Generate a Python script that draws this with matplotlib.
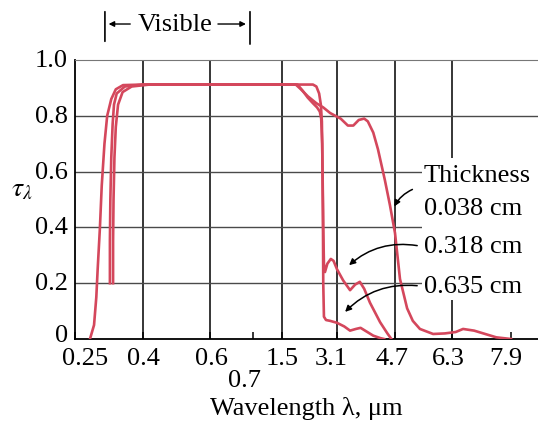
import numpy as np
import matplotlib.pyplot as plt
from matplotlib.patches import Rectangle

plt.rcParams['font.family'] = ['Liberation Serif', 'DejaVu Serif']
plt.rcParams['mathtext.fontset'] = 'stix'

# x axis of the figure is not linear: piecewise between the labelled ticks
tick_lam = [0.25, 0.4, 0.6, 0.7, 1.5, 3.1, 4.7, 6.3, 7.9]
tick_lab = ['0.25', '0.4', '0.6', '0.7', '1.5', '3.1', '4.7', '6.3', '7.9']
ytick_val = [0, 0.2, 0.4, 0.6, 0.8, 1.0]
ytick_lab = ['0', '0.2', '0.4', '0.6', '0.8', '1.0']
grid_lam = [0.4, 0.6, 1.5, 3.1, 4.7, 6.3]
grid_tau = [0.2, 0.4, 0.6, 0.8]

# transmissivity curves (wavelength in um)
lam_038 = [0.283, 0.292, 0.297, 0.300, 0.305, 0.309, 0.315, 0.321, 0.330, 0.340, 0.356, 0.40,
           1.0, 1.90, 2.05, 2.25, 2.50, 2.70, 2.90, 3.05, 3.20, 3.40, 3.55, 3.70, 3.85, 3.95,
           4.10, 4.23, 4.42, 4.56, 4.70, 4.84, 5.04, 5.20, 5.40, 5.77, 6.10, 6.40, 6.60, 6.90,
           7.20, 7.50, 7.90]
tau_038 = [0.0, 0.05, 0.15, 0.25, 0.4, 0.55, 0.7, 0.8, 0.86, 0.895, 0.91, 0.912,
           0.912, 0.912, 0.895, 0.87, 0.845, 0.83, 0.81, 0.80, 0.79, 0.765, 0.765, 0.785, 0.79, 0.78,
           0.74, 0.68, 0.57, 0.48, 0.38, 0.215, 0.11, 0.065, 0.036, 0.018, 0.02, 0.025, 0.036, 0.03,
           0.018, 0.006, 0.0]

lam_318 = [0.327, 0.327, 0.328, 0.330, 0.333, 0.336, 0.342, 0.36, 0.40, 1.0, 2.0, 2.40, 2.50,
           2.58, 2.63, 2.66, 2.68, 2.70, 2.72, 2.75, 2.82, 2.92, 3.00, 3.10, 3.27, 3.46, 3.60,
           3.73, 3.85, 4.01, 4.15, 4.29, 4.49, 4.60]
tau_318 = [0.2, 0.35, 0.5, 0.65, 0.77, 0.84, 0.88, 0.905, 0.912, 0.912, 0.912, 0.912, 0.905,
           0.88, 0.84, 0.78, 0.6, 0.4, 0.27, 0.24, 0.27, 0.287, 0.28, 0.25, 0.21, 0.175, 0.195,
           0.205, 0.18, 0.13, 0.095, 0.06, 0.02, 0.0]

lam_635 = [0.334, 0.334, 0.335, 0.337, 0.340, 0.345, 0.355, 0.375, 0.42, 1.0, 1.95, 2.10, 2.25,
           2.40, 2.52, 2.60, 2.64, 2.67, 2.69, 2.70, 2.72, 2.78, 2.90, 3.10, 3.30, 3.46, 3.62,
           3.75, 3.90, 4.10, 4.30, 4.40]
tau_635 = [0.2, 0.35, 0.5, 0.65, 0.76, 0.84, 0.885, 0.905, 0.912, 0.912, 0.912, 0.89, 0.865,
           0.845, 0.83, 0.815, 0.79, 0.7, 0.45, 0.2, 0.08, 0.068, 0.065, 0.058, 0.045, 0.03, 0.036,
           0.04, 0.028, 0.012, 0.003, 0.0]

# scale: wavelength -> position along the axis
sc_lam = np.array([0.25, 0.4, 0.6, 0.7, 1.5, 3.1, 4.7, 6.3, 7.9, 8.67])
sc_pos = np.array([75, 143, 210, 253, 282, 337, 395, 452, 511, 538.])

def fwd(x):
    return np.interp(x, sc_lam, sc_pos)

def inv(p):
    return np.interp(p, sc_pos, sc_lam)

red = '#d4475c'
fs = 19

fig = plt.figure(figsize=(5.38, 4.27), dpi=100)
ax = fig.add_axes([75/538, 87/427, 463/538, 279/427])
ax.set_xscale('function', functions=(fwd, inv))
ax.set_xlim(0.25, 8.67)
ax.set_ylim(0, 1.0)

for g in grid_lam:
    ax.axvline(g, color='k', lw=1.1, zorder=1)
for g in grid_tau:
    ax.axhline(g, color='#4a4a4a', lw=1.0, zorder=1)

# white patch behind the thickness labels
ax.add_patch(Rectangle((5.45, 0.14), 3.3, 0.51, facecolor='white', edgecolor='none', zorder=2))

ax.plot(lam_038, tau_038, color=red, lw=1.9, zorder=3)
ax.plot(lam_318, tau_318, color=red, lw=1.9, zorder=3)
ax.plot(lam_635, tau_635, color=red, lw=1.9, zorder=3)

ax.spines['right'].set_visible(False)
ax.spines['top'].set_color('#777777')
ax.spines['left'].set_linewidth(1.3)
ax.spines['bottom'].set_linewidth(1.3)

ax.set_xticks(tick_lam)
ax.set_xticklabels([])
ax.tick_params(axis='x', direction='in', length=5, width=1.1)
ax.set_yticks(ytick_val)
ax.set_yticklabels([])
ax.tick_params(axis='y', length=0)

# tick labels, placed by hand like the printed figure
offs = [(7, 0), (0, 0), (1, 0), (-6, -16), (0, 0), (-4, 0), (-2, 0), (-3, 0), (-4, 0)]
for lam, lab, (dx, dy) in zip(tick_lam, tick_lab, offs):
    ax.annotate(lab, xy=(lam, 0), xycoords=('data', 'axes fraction'),
                xytext=(dx, -5.5 + dy), textcoords='offset points',
                ha='center', va='top', fontsize=fs)
for val, lab in zip(ytick_val, ytick_lab):
    dy = 3 if val == 0 else 0
    ax.annotate(lab, xy=(0, val), xycoords=('axes fraction', 'data'),
                xytext=(-5, dy), textcoords='offset points',
                ha='right', va='center', fontsize=fs)

fig.text(306/538, 1 - 409/427, 'Wavelength λ, μm', ha='center', va='center', fontsize=fs)
fig.text(22/538, 1 - 190/427, r'$\tau_\lambda$', ha='center', va='center', fontsize=20)

# "Visible" bracket
ax.annotate('Visible', xy=(0.4955, 1.129), xycoords=('data', 'axes fraction'),
            ha='center', va='center', fontsize=fs)
for xv, y0, y1 in [(0.316, 1.057, 1.183), (0.693, 1.047, 1.183)]:
    ax.annotate('', xy=(xv, y0), xytext=(xv, y1), xycoords=('data', 'axes fraction'),
                textcoords=('data', 'axes fraction'),
                arrowprops=dict(arrowstyle='-', color='k', lw=1.2))
ax.annotate('', xy=(0.318, 1.129), xytext=(0.378, 1.129), xycoords=('data', 'axes fraction'),
            textcoords=('data', 'axes fraction'),
            arrowprops=dict(arrowstyle='-|>', color='k', lw=1.0, mutation_scale=8))
ax.annotate('', xy=(0.690, 1.129), xytext=(0.612, 1.129), xycoords=('data', 'axes fraction'),
            textcoords=('data', 'axes fraction'),
            arrowprops=dict(arrowstyle='-|>', color='k', lw=1.0, mutation_scale=8))

# thickness labels
ax.text(5.50, 0.588, 'Thickness', ha='left', va='center', fontsize=fs, zorder=4)
ax.text(5.50, 0.47, '0.038 cm', ha='left', va='center', fontsize=fs, zorder=4)
ax.text(5.50, 0.333, '0.318 cm', ha='left', va='center', fontsize=fs, zorder=4)
ax.text(5.50, 0.19, '0.635 cm', ha='left', va='center', fontsize=fs, zorder=4)

arr = dict(arrowstyle='-|>', color='k', lw=1.1, mutation_scale=9)
ax.annotate('', xy=(4.645, 0.466), xytext=(5.26, 0.54),
            arrowprops=dict(connectionstyle='arc3,rad=0.2', **arr), zorder=4)
ax.annotate('', xy=(3.376, 0.258), xytext=(5.40, 0.333),
            arrowprops=dict(connectionstyle='arc3,rad=0.25', **arr), zorder=4)
ax.annotate('', xy=(3.27, 0.09), xytext=(5.40, 0.19),
            arrowprops=dict(connectionstyle='arc3,rad=0.25', **arr), zorder=4)

fig.savefig('out.png', dpi=100)
